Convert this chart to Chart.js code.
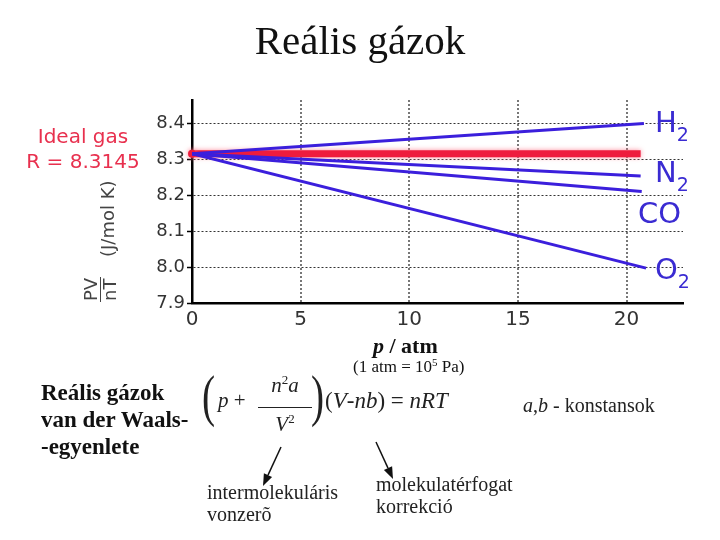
<!DOCTYPE html>
<html>
<head>
<meta charset="utf-8">
<script src="https://cdn.jsdelivr.net/npm/chart.js@4/dist/chart.umd.min.js"></script>
<style>
  html, body { margin: 0; padding: 0; background: #fff; }
  #wrap { position: relative; width: 720px; height: 540px; overflow: hidden; background: #fff; }
  #c { position: absolute; left: 0; top: 0; }
  .t { position: absolute; white-space: nowrap; line-height: 1; }
  .serif { font-family: "Liberation Serif", "Times New Roman", serif; color: #111; }
  .sans { font-family: "DejaVu Sans", sans-serif; }
  .blue { color: #3a2bd2; font-size: 29px; }
  .blue .sub { font-size: 19px; position: relative; top: 9px; }
  .red { color: #e8304e; font-size: 20px; }
  .gray { color: #444; font-size: 18px; }
  .rot { transform: rotate(-90deg); transform-origin: 0 0; }
  svg { position: absolute; left: 0; top: 0; }
</style>
</head>
<body>
<div id="wrap">
  <canvas id="c" width="720" height="540"></canvas>

  <div class="t serif" style="left:0;width:720px;text-align:center;top:19.6px;font-size:41px;">Reális gázok</div>

  <div class="t sans red" style="left:0;width:166px;text-align:center;top:126px;">Ideal gas</div>
  <div class="t sans red" style="left:0;width:166px;text-align:center;top:151px;">R = 8.3145</div>

  <!-- y axis title, rotated -->
  <div class="t sans gray rot" style="left:82px;top:301px;">PV</div>
  <div class="t sans gray rot" style="left:101px;top:301px;">nT</div>
  <div style="position:absolute;left:99.5px;top:277px;width:1.5px;height:25px;background:#444;"></div>
  <div class="t sans gray rot" style="left:99px;top:257px;">(J/mol K)</div>

  <div class="t sans blue" style="left:655px;top:107.6px;">H<span class="sub">2</span></div>
  <div class="t sans blue" style="left:655px;top:157.6px;">N<span class="sub">2</span></div>
  <div class="t sans blue" style="left:638px;top:198.6px;">CO</div>
  <div class="t sans blue" style="left:655px;top:254.6px;">O<span class="sub">2</span></div>

  <div class="t serif" style="left:373px;top:334.5px;font-size:22px;font-weight:bold;"><i>p</i> / atm</div>
  <div class="t serif" style="left:353px;top:357.7px;font-size:17px;">(1 atm = 10<span style="font-size:11px;position:relative;top:-6px;">5</span> Pa)</div>

  <div class="t serif" style="left:41px;top:378.7px;font-size:23px;font-weight:bold;line-height:27px;">Reális gázok<br>van der Waals-<br>-egyenlete</div>

  <!-- van der Waals equation -->
  <div class="t serif" style="left:202px;top:368px;font-size:56px;transform:scaleX(0.7);transform-origin:0 0;color:#222;">(</div>
  <div class="t serif" style="left:218px;top:390.4px;font-size:21px;color:#222;"><i>p</i> +</div>
  <div class="t serif" style="left:256px;width:58px;text-align:center;top:375.4px;font-size:21px;color:#222;"><i>n</i><span style="font-size:13px;position:relative;top:-8px;">2</span><i>a</i></div>
  <div style="position:absolute;left:258px;top:406.5px;width:54px;height:1.5px;background:#222;"></div>
  <div class="t serif" style="left:256px;width:58px;text-align:center;top:414.4px;font-size:21px;color:#222;"><i>V</i><span style="font-size:13px;position:relative;top:-8px;">2</span></div>
  <div class="t serif" style="left:311px;top:368px;font-size:56px;transform:scaleX(0.7);transform-origin:0 0;color:#222;">)</div>
  <div class="t serif" style="left:325px;top:388.7px;font-size:23px;color:#222;">(<i>V</i>-<i>nb</i>) = <i>nRT</i></div>

  <div class="t serif" style="left:523px;top:395.2px;font-size:20px;color:#222;"><i>a</i>,<i>b</i> - konstansok</div>

  <div class="t serif" style="left:207px;top:481.3px;font-size:20px;line-height:22px;color:#222;">intermolekuláris<br>vonzerõ</div>
  <div class="t serif" style="left:376px;top:473.3px;font-size:20px;line-height:22px;color:#222;">molekulatérfogat<br>korrekció</div>

  <svg width="720" height="540">
    <line x1="281" y1="447" x2="268" y2="475.1" stroke="#111" stroke-width="1.5"/>
    <polygon points="263,486 272.1,477 263.9,473.2" fill="#111"/>
    <line x1="376" y1="442" x2="388" y2="468.1" stroke="#111" stroke-width="1.5"/>
    <polygon points="393,479 392.1,466.2 383.9,470" fill="#111"/>
  </svg>
</div>

<script>
// Pressure (atm) and PV/nT (J/mol K)
const gasNames = ['H2', 'N2', 'CO', 'O2', 'Ideal gas'];
const pressureH2 = [0, 20.8];
const pvH2 = [8.3145, 8.399];
const pressureN2 = [0, 20.65];
const pvN2 = [8.3145, 8.253];
const pressureCO = [0, 20.7];
const pvCO = [8.3145, 8.210];
const pressureO2 = [0, 20.9];
const pvO2 = [8.3145, 7.997];
const pressureIdeal = [0, 20.65];
const pvIdeal = [8.3145, 8.3145];

const toXY = (xs, ys) => xs.map((x, i) => ({ x: x, y: ys[i] }));

const BLUE = '#3b1fdc';
const RED = '#ee1c3e';

const blueLine = (label, xs, ys) => ({
  label: label,
  data: toXY(xs, ys),
  borderColor: BLUE,
  borderWidth: 3,
  pointRadius: 0,
  tension: 0
});

const glowPlugin = {
  id: 'glow',
  beforeDatasetDraw(chart, args) {
    if (args.index === 4) {
      chart.ctx.save();
      chart.ctx.shadowColor = 'rgba(255,110,130,0.8)';
      chart.ctx.shadowBlur = 5;
    }
  },
  afterDatasetDraw(chart, args) {
    if (args.index === 4) chart.ctx.restore();
  }
};

new Chart(document.getElementById('c'), {
  type: 'line',
  data: {
    datasets: [
      blueLine(gasNames[0], pressureH2, pvH2),
      blueLine(gasNames[1], pressureN2, pvN2),
      blueLine(gasNames[2], pressureCO, pvCO),
      blueLine(gasNames[3], pressureO2, pvO2),
      {
        label: gasNames[4],
        data: toXY(pressureIdeal, pvIdeal),
        borderColor: RED,
        borderWidth: 7,
        pointRadius: [4, 0],
        pointBackgroundColor: RED,
        pointBorderWidth: 0,
        clip: false,
        tension: 0
      }
    ]
  },
  options: {
    responsive: false,
    animation: false,
    events: [],
    layout: { padding: { top: 100, right: 37, left: 0, bottom: 0 } },
    plugins: { legend: { display: false }, tooltip: { enabled: false }, title: { display: false } },
    scales: {
      x: {
        type: 'linear',
        min: 0,
        max: 22.6,
        ticks: {
          stepSize: 5,
          includeBounds: false,
          color: '#333',
          padding: 5,
          font: { family: 'DejaVu Sans', size: 20 }
        },
        grid: { color: '#777', lineWidth: 2, drawTicks: false },
        border: { color: '#000', width: 2.5, dash: [2, 2] },
        afterFit: s => { s.height = 237; }
      },
      y: {
        min: 7.9,
        max: 8.464,
        ticks: {
          stepSize: 0.1,
          includeBounds: false,
          color: '#333',
          padding: 2,
          font: { family: 'DejaVu Sans', size: 18 },
          callback: v => Number(v).toFixed(1)
        },
        grid: { color: '#333', lineWidth: 1, tickLength: 5, tickColor: '#000', tickWidth: 1.5, tickBorderDash: [] },
        border: { color: '#000', width: 2.5, dash: [2, 2] },
        afterFit: s => { s.width = 192; }
      }
    }
  },
  plugins: [glowPlugin]
});
</script>
</body>
</html>
